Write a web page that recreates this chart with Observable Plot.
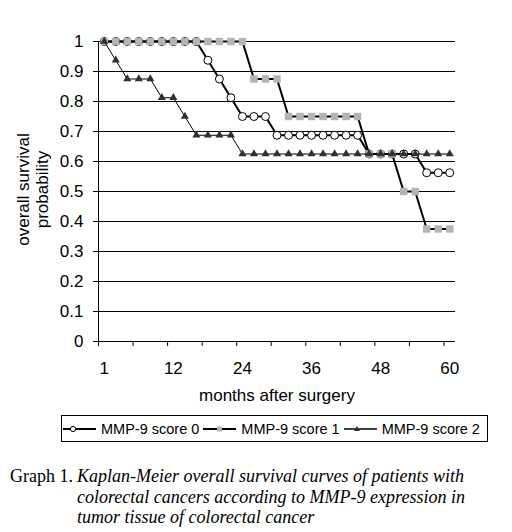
<!DOCTYPE html>
<html>
<head>
<meta charset="utf-8">
<script src="https://cdn.jsdelivr.net/npm/d3@7"></script>
<script src="https://cdn.jsdelivr.net/npm/@observablehq/plot@0.6"></script>
<style>
  html, body { margin: 0; padding: 0; background: #fff; }
  body { width: 512px; height: 532px; position: relative; overflow: hidden; font-family: 'Liberation Sans', Arial, sans-serif; color: #000; }
  #chart { position: absolute; left: 0; top: 0; }
  #legend { position: absolute; left: 61px; top: 415px; width: 425px; height: 25px; border: 1px solid #000; display: flex; align-items: center; font-size: 14.5px; white-space: nowrap; }
  #legend .item { display: flex; align-items: center; margin-right: 4px; }
  #legend svg { display: block; margin-right: 5px; }
  #legend .item:first-child { margin-left: 1px; }
  #caption { position: absolute; left: 10px; top: 466px; font-family: 'Liberation Serif', 'Times New Roman', serif; font-size: 18px; line-height: 20.5px; display: flex; white-space: nowrap; }
  #caption .lab { width: 67px; flex: none; }
  #caption .txt { font-style: italic; }
</style>
</head>
<body>
<div id="chart"></div>
<div id="legend"></div>
<div id="caption"></div>
<script>
// Categories (x positions, one every 2 months; first labelled "1")
const months = [0, 2, 4, 6, 8, 10, 12, 14, 16, 18, 20, 22, 24, 26, 28, 30, 32, 34, 36, 38, 40, 42, 44, 46, 48, 50, 52, 54, 56, 58, 60];

// Series values (survival probability)
const score0 = [1, 1, 1, 1, 1, 1, 1, 1, 1, 0.9375, 0.875, 0.8125, 0.75, 0.75, 0.75, 0.6875, 0.6875, 0.6875, 0.6875, 0.6875, 0.6875, 0.6875, 0.6875, 0.625, 0.625, 0.625, 0.625, 0.625, 0.5625, 0.5625, 0.5625];
const score1 = [1, 1, 1, 1, 1, 1, 1, 1, 1, 1, 1, 1, 1, 0.875, 0.875, 0.875, 0.75, 0.75, 0.75, 0.75, 0.75, 0.75, 0.75, 0.625, 0.625, 0.625, 0.5, 0.5, 0.375, 0.375, 0.375];
const score2 = [1, 0.9375, 0.875, 0.875, 0.875, 0.8125, 0.8125, 0.75, 0.6875, 0.6875, 0.6875, 0.6875, 0.625, 0.625, 0.625, 0.625, 0.625, 0.625, 0.625, 0.625, 0.625, 0.625, 0.625, 0.625, 0.625, 0.625, 0.625, 0.625, 0.625, 0.625, 0.625];

const seriesNames = ["MMP-9 score 0", "MMP-9 score 1", "MMP-9 score 2"];

// Tick labels
const yTicks = [0, 0.1, 0.2, 0.3, 0.4, 0.5, 0.6, 0.7, 0.8, 0.9, 1];
const xLabelTicks = [0, 12, 24, 36, 48, 60];
const xTickLabels = ["1", "12", "24", "36", "48", "60"];
const xTickMarks = [-1, 5, 11, 17, 23, 29, 35, 41, 47, 53, 59];

const xTitle = "months after surgery";
const yTitle = "overall survival\nprobability";
const captionLabel = "Graph 1.";
const captionLines = [
  "Kaplan-Meier overall survival curves of patients with",
  "colorectal cancers according to MMP-9 expression in",
  "tumor tissue of colorectal cancer"
];

const rows = (vals) => months.map((m, i) => ({month: m, p: vals[i]}));
const d0 = rows(score0), d1 = rows(score1), d2 = rows(score2);

const chart = Plot.plot({
  width: 512,
  height: 408,
  marginLeft: 98,
  marginRight: 57,
  marginTop: 41,
  marginBottom: 67,
  style: {fontFamily: "'Liberation Sans', Arial, sans-serif", fontSize: "17px", color: "black", background: "white"},
  x: {type: "linear", domain: [-1, 61], label: null},
  y: {domain: [0, 1], label: null},
  marks: [
    Plot.gridY(yTicks, {stroke: "black", strokeOpacity: 1, strokeWidth: 1}),
    Plot.frame({anchor: "left", stroke: "black"}),
    Plot.axisY(yTicks, {tickSize: 5, tickPadding: 10, tickFormat: d => String(d), fontSize: 17, label: null, stroke: "black"}),
    Plot.axisX(xTickMarks, {tickSize: 5, tickFormat: () => "", label: null, stroke: "black"}),
    Plot.axisX(xLabelTicks, {tickSize: 0, tickPadding: 20, tickFormat: d => xTickLabels[xLabelTicks.indexOf(d)], fontSize: 17, label: null}),
    Plot.text([xTitle], {text: d => d, frameAnchor: "bottom", textAnchor: "middle", lineAnchor: "middle", dy: 54, fontSize: 17, fill: "black"}),
    Plot.text([yTitle], {text: d => d, frameAnchor: "left", textAnchor: "middle", lineAnchor: "middle", rotate: -90, dx: -66, dy: -2, fontSize: 17, lineHeight: 1.12, fill: "black"}),
    // score 0
    Plot.line(d0, {x: "month", y: "p", stroke: "black", strokeWidth: 2}),
    Plot.dot(d0, {x: "month", y: "p", symbol: "circle", r: 4, fill: "white", stroke: "black", strokeWidth: 1}),
    // score 1
    Plot.line(d1, {x: "month", y: "p", stroke: "black", strokeWidth: 2}),
    Plot.dot(d1, {x: "month", y: "p", symbol: "square", r: 4.2, fill: "#b4b4b4", stroke: "none"}),
    // score 2
    Plot.line(d2, {x: "month", y: "p", stroke: "black", strokeWidth: 1}),
    Plot.dot(d2, {x: "month", y: "p", symbol: "triangle", r: 3, fill: "#303030", stroke: "none"})
  ]
});
document.getElementById("chart").appendChild(chart);

// Legend
const symbols = [
  '<svg width="33" height="12"><line x1="0" x2="33" y1="6" y2="6" stroke="black" stroke-width="2"/><circle cx="10" cy="6" r="2.6" fill="white" stroke="black" stroke-width="1"/></svg>',
  '<svg width="33" height="12"><line x1="0" x2="33" y1="6" y2="6" stroke="black" stroke-width="2"/><rect x="14" y="3.5" width="5" height="5" fill="#b4b4b4"/></svg>',
  '<svg width="33" height="12"><line x1="0" x2="33" y1="6" y2="6" stroke="black" stroke-width="1.5"/><path d="M13,3 L16,8 L10,8 Z" fill="#303030"/></svg>'
];
const legend = document.getElementById("legend");
legend.innerHTML = seriesNames.map((n, i) => `<div class="item">${symbols[i]}<span>${n}</span></div>`).join("");

// Caption
document.getElementById("caption").innerHTML =
  `<span class="lab">${captionLabel}</span><span class="txt">${captionLines.join("<br>")}</span>`;
</script>
</body>
</html>
